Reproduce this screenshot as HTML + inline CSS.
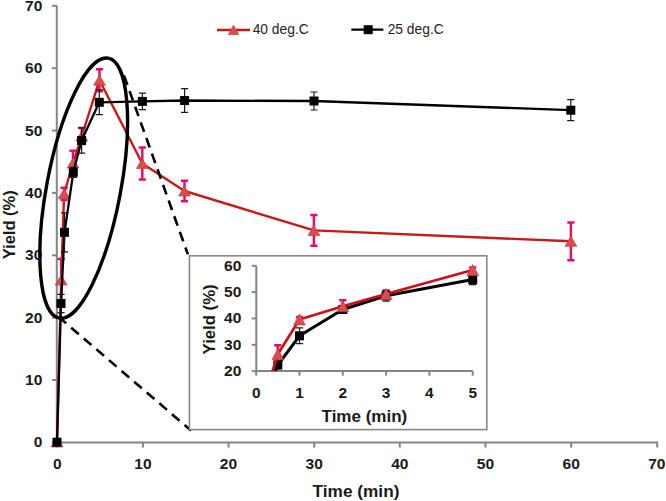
<!DOCTYPE html>
<html><head><meta charset="utf-8"><style>
html,body{margin:0;padding:0;background:#fff;}
svg{display:block;}
text{font-family:"Liberation Sans",sans-serif;}
.axis path{fill:none;stroke:#868686;stroke-width:2;}
.tl text{font-size:14.2px;font-weight:bold;fill:#1a1a1a;}
.at{font-size:17px;font-weight:bold;fill:#1a1a1a;}
.lg{font-size:14px;fill:#1e1e1e;}
.bl{fill:none;stroke:#000;stroke-width:2.3;stroke-linejoin:round;}
.rl{fill:none;stroke:#C81818;stroke-width:2.4;stroke-linejoin:round;}
.bl2{fill:none;stroke:#000;stroke-width:3;stroke-linejoin:round;}
.rl2{fill:none;stroke:#CC0F18;stroke-width:2.7;stroke-linejoin:round;}
.be{fill:none;stroke:#1a1a1a;stroke-width:1.2;}
.re{fill:none;stroke:#E0106A;stroke-width:2.5;}
.tri{fill:#DC4C4C;stroke:#C04040;stroke-width:0.7;}
.sq{fill:#000;}
.dash{fill:none;stroke:#000;stroke-width:2.6;stroke-dasharray:10 6.6;}
</style></head><body>
<svg width="666" height="501" viewBox="0 0 666 501">
<g class="axis">
<path d="M56.8,5.8V442.4H657.2V447.5"/>
<path d="M52,442.4H56.8"/>
<path d="M52,380.0H56.8"/>
<path d="M52,317.7H56.8"/>
<path d="M52,255.3H56.8"/>
<path d="M52,192.9H56.8"/>
<path d="M52,130.6H56.8"/>
<path d="M52,68.2H56.8"/>
<path d="M52,5.8H56.8"/>
<path d="M57.2,442.4V447.6"/>
<path d="M142.9,442.4V447.6"/>
<path d="M228.5,442.4V447.6"/>
<path d="M314.2,442.4V447.6"/>
<path d="M399.8,442.4V447.6"/>
<path d="M485.5,442.4V447.6"/>
<path d="M571.2,442.4V447.6"/>
</g>
<g class="tl">
<text x="42.3" y="447.4" text-anchor="end" textLength="8.6" lengthAdjust="spacingAndGlyphs">0</text>
<text x="42.3" y="385.0" text-anchor="end" textLength="17.3" lengthAdjust="spacingAndGlyphs">10</text>
<text x="42.3" y="322.7" text-anchor="end" textLength="17.3" lengthAdjust="spacingAndGlyphs">20</text>
<text x="42.3" y="260.3" text-anchor="end" textLength="17.3" lengthAdjust="spacingAndGlyphs">30</text>
<text x="42.3" y="197.9" text-anchor="end" textLength="17.3" lengthAdjust="spacingAndGlyphs">40</text>
<text x="42.3" y="135.6" text-anchor="end" textLength="17.3" lengthAdjust="spacingAndGlyphs">50</text>
<text x="42.3" y="73.2" text-anchor="end" textLength="17.3" lengthAdjust="spacingAndGlyphs">60</text>
<text x="42.3" y="10.8" text-anchor="end" textLength="17.3" lengthAdjust="spacingAndGlyphs">70</text>
<text x="57.2" y="469.2" text-anchor="middle" textLength="8.6" lengthAdjust="spacingAndGlyphs">0</text>
<text x="142.9" y="469.2" text-anchor="middle" textLength="17.3" lengthAdjust="spacingAndGlyphs">10</text>
<text x="228.5" y="469.2" text-anchor="middle" textLength="17.3" lengthAdjust="spacingAndGlyphs">20</text>
<text x="314.2" y="469.2" text-anchor="middle" textLength="17.3" lengthAdjust="spacingAndGlyphs">30</text>
<text x="399.8" y="469.2" text-anchor="middle" textLength="17.3" lengthAdjust="spacingAndGlyphs">40</text>
<text x="485.5" y="469.2" text-anchor="middle" textLength="17.3" lengthAdjust="spacingAndGlyphs">50</text>
<text x="571.2" y="469.2" text-anchor="middle" textLength="17.3" lengthAdjust="spacingAndGlyphs">60</text>
<text x="656.8" y="469.2" text-anchor="middle" textLength="17.3" lengthAdjust="spacingAndGlyphs">70</text>
</g>
<text class="at" x="356" y="496.6" text-anchor="middle" textLength="86.8" lengthAdjust="spacingAndGlyphs">Time (min)</text>
<text class="at" transform="translate(14.9,224.8) rotate(-90)" x="0" y="0" text-anchor="middle" textLength="69" lengthAdjust="spacingAndGlyphs">Yield (%)</text>
<path class="rl" d="M57.0,442.0 L61.2,280.0 L64.1,193.8 L73.0,163.0 L81.8,136.0 L99.5,80.2 L142.3,163.5 L184.5,191.0 L313.9,230.4 L570.9,241.3"/>

<path class="re" d="M61.2,259.0V301.0M57.6,259.0h7.2M57.6,301.0h7.2"/>
<path class="re" d="M64.1,187.7V199.9M60.5,187.7h7.2M60.5,199.9h7.2"/>
<path class="re" d="M73.0,150.8V175.2M69.4,150.8h7.2M69.4,175.2h7.2"/>
<path class="re" d="M81.8,128.0V144.0M78.2,128.0h7.2M78.2,144.0h7.2"/>
<path class="re" d="M99.5,69.2V91.2M95.9,69.2h7.2M95.9,91.2h7.2"/>
<path class="re" d="M142.3,147.5V179.5M138.7,147.5h7.2M138.7,179.5h7.2"/>
<path class="re" d="M184.5,180.7V201.3M180.9,180.7h7.2M180.9,201.3h7.2"/>
<path class="re" d="M313.9,215.1V245.7M310.3,215.1h7.2M310.3,245.7h7.2"/>
<path class="re" d="M570.9,222.4V260.2M567.3,222.4h7.2M567.3,260.2h7.2"/>
<polygon class="tri" points="57.0,437.0 62.9,447.0 51.1,447.0"/>
<polygon class="tri" points="61.2,275.0 67.1,285.0 55.3,285.0"/>
<polygon class="tri" points="64.1,188.8 70.0,198.8 58.2,198.8"/>
<polygon class="tri" points="73.0,158.0 78.9,168.0 67.1,168.0"/>
<polygon class="tri" points="81.8,131.0 87.7,141.0 75.9,141.0"/>
<polygon class="tri" points="99.5,75.2 105.4,85.2 93.6,85.2"/>
<polygon class="tri" points="142.3,158.5 148.2,168.5 136.4,168.5"/>
<polygon class="tri" points="184.5,186.0 190.4,196.0 178.6,196.0"/>
<polygon class="tri" points="313.9,225.4 319.8,235.4 308.0,235.4"/>
<polygon class="tri" points="570.9,236.3 576.8,246.3 565.0,246.3"/>
<path class="bl" d="M57.0,442.2 L61.0,303.5 L64.5,232.3 L73.3,172.3 L81.6,140.5 L99.3,102.3 L142.4,101.4 L184.6,100.5 L314.0,101.0 L570.8,110.2"/>

<path class="be" d="M61.0,294.3V312.7M57.4,294.3h7.2M57.4,312.7h7.2"/>
<path class="be" d="M64.5,212.8V251.8M60.9,212.8h7.2M60.9,251.8h7.2"/>
<path class="be" d="M73.3,167.3V177.3M69.7,167.3h7.2M69.7,177.3h7.2"/>
<path class="be" d="M81.6,127.8V153.2M78.0,127.8h7.2M78.0,153.2h7.2"/>
<path class="be" d="M99.3,89.9V114.7M95.7,89.9h7.2M95.7,114.7h7.2"/>
<path class="be" d="M142.4,93.2V109.6M138.8,93.2h7.2M138.8,109.6h7.2"/>
<path class="be" d="M184.6,88.7V112.3M181.0,88.7h7.2M181.0,112.3h7.2"/>
<path class="be" d="M314.0,92.0V110.0M310.4,92.0h7.2M310.4,110.0h7.2"/>
<path class="be" d="M570.8,99.7V120.7M567.2,99.7h7.2M567.2,120.7h7.2"/>
<rect class="sq" x="52.5" y="437.7" width="9" height="9"/>
<rect class="sq" x="56.5" y="299.0" width="9" height="9"/>
<rect class="sq" x="60.0" y="227.8" width="9" height="9"/>
<rect class="sq" x="68.8" y="167.8" width="9" height="9"/>
<rect class="sq" x="77.1" y="136.0" width="9" height="9"/>
<rect class="sq" x="94.8" y="97.8" width="9" height="9"/>
<rect class="sq" x="137.9" y="96.9" width="9" height="9"/>
<rect class="sq" x="180.1" y="96.0" width="9" height="9"/>
<rect class="sq" x="309.5" y="96.5" width="9" height="9"/>
<rect class="sq" x="566.3" y="105.7" width="9" height="9"/>
<path class="rl" d="M217,30H250"/>
<polygon class="tri" points="233.5,25.2 238.7,34.6 228.3,34.6"/>
<text class="lg" x="252.7" y="34.3" textLength="56" lengthAdjust="spacingAndGlyphs">40 deg.C</text>
<path class="bl" d="M351.3,29.6H383.4"/>
<rect class="sq" x="363.7" y="25.2" width="9" height="9"/>
<text class="lg" x="387.7" y="34.3" textLength="56" lengthAdjust="spacingAndGlyphs">25 deg.C</text>
<ellipse cx="83.7" cy="188.15" rx="36.98" ry="132.27" transform="rotate(10.7 83.7 188.15)" fill="none" stroke="#000" stroke-width="3.4"/>
<path class="dash" d="M124,75.5L187.9,254.4"/>
<path class="dash" style="stroke-dashoffset:2.5" d="M60.5,318.5L191,430.5"/>
<rect x="189.4" y="255.8" width="297.4" height="173.8" fill="#fff" stroke="#888" stroke-width="1.6"/>
<g class="axis">
<path d="M256.3,265.8V371.1H472.7"/>
<path d="M251.7,371.1H256.3"/>
<path d="M251.7,344.8H256.3"/>
<path d="M251.7,318.4H256.3"/>
<path d="M251.7,292.1H256.3"/>
<path d="M251.7,265.8H256.3"/>
<path d="M256.2,371.1V375.7"/>
<path d="M299.5,371.1V375.7"/>
<path d="M342.8,371.1V375.7"/>
<path d="M386.1,371.1V375.7"/>
<path d="M429.4,371.1V375.7"/>
<path d="M472.7,371.1V375.7"/>
</g>
<g class="tl">
<text x="241.3" y="376.1" text-anchor="end" textLength="17.3" lengthAdjust="spacingAndGlyphs">20</text>
<text x="241.3" y="349.8" text-anchor="end" textLength="17.3" lengthAdjust="spacingAndGlyphs">30</text>
<text x="241.3" y="323.4" text-anchor="end" textLength="17.3" lengthAdjust="spacingAndGlyphs">40</text>
<text x="241.3" y="297.1" text-anchor="end" textLength="17.3" lengthAdjust="spacingAndGlyphs">50</text>
<text x="241.3" y="270.8" text-anchor="end" textLength="17.3" lengthAdjust="spacingAndGlyphs">60</text>
<text x="256.2" y="398.1" text-anchor="middle" textLength="8.6" lengthAdjust="spacingAndGlyphs">0</text>
<text x="299.5" y="398.1" text-anchor="middle" textLength="8.6" lengthAdjust="spacingAndGlyphs">1</text>
<text x="342.8" y="398.1" text-anchor="middle" textLength="8.6" lengthAdjust="spacingAndGlyphs">2</text>
<text x="386.1" y="398.1" text-anchor="middle" textLength="8.6" lengthAdjust="spacingAndGlyphs">3</text>
<text x="429.4" y="398.1" text-anchor="middle" textLength="8.6" lengthAdjust="spacingAndGlyphs">4</text>
<text x="472.7" y="398.1" text-anchor="middle" textLength="8.6" lengthAdjust="spacingAndGlyphs">5</text>
</g>
<text class="at" x="364.4" y="422.2" text-anchor="middle" textLength="85.7" lengthAdjust="spacingAndGlyphs">Time (min)</text>
<text class="at" transform="translate(214.6,319.4) rotate(-90)" x="0" y="0" text-anchor="middle" textLength="70" lengthAdjust="spacingAndGlyphs">Yield (%)</text>
<clipPath id="ic"><rect x="190" y="256" width="296" height="115.1"/></clipPath>
<g clip-path="url(#ic)">

<path class="re" d="M277.8,345.3V363.2M274.2,345.3h7.2M274.2,363.2h7.2"/>
<path class="re" d="M299.5,316.9V322.1M295.9,316.9h7.2M295.9,322.1h7.2"/>
<path class="re" d="M342.8,300.3V312.4M339.2,300.3h7.2M339.2,312.4h7.2"/>
<path class="re" d="M386.1,290.5V297.4M382.5,290.5h7.2M382.5,297.4h7.2"/>
<path class="re" d="M472.7,267.4V272.6M469.1,267.4h7.2M469.1,272.6h7.2"/>
<path class="bl2" d="M256.2,423.8 L277.8,365.0 L299.5,335.8 L342.8,309.5 L386.1,295.8 L472.7,279.5"/>

<path class="be" d="M277.8,361.1V369.0M274.2,361.1h7.2M274.2,369.0h7.2"/>
<path class="be" d="M299.5,327.9V343.7M295.9,327.9h7.2M295.9,343.7h7.2"/>
<path class="be" d="M342.8,307.4V311.6M339.2,307.4h7.2M339.2,311.6h7.2"/>
<path class="be" d="M386.1,290.5V301.1M382.5,290.5h7.2M382.5,301.1h7.2"/>
<path class="be" d="M472.7,274.2V284.7M469.1,274.2h7.2M469.1,284.7h7.2"/>
<rect class="sq" x="273.3" y="360.5" width="9" height="9"/>
<rect class="sq" x="295.0" y="331.3" width="9" height="9"/>
<rect class="sq" x="338.3" y="305.0" width="9" height="9"/>
<rect class="sq" x="381.6" y="291.3" width="9" height="9"/>
<rect class="sq" x="468.2" y="275.0" width="9" height="9"/>
<path class="rl2" d="M256.2,423.8 L277.8,354.2 L299.5,319.5 L342.8,306.3 L386.1,294.0 L472.7,270.0"/>
<polygon class="tri" points="277.8,348.7 283.6,359.7 272.0,359.7"/>
<polygon class="tri" points="299.5,314.0 305.3,325.0 293.7,325.0"/>
<polygon class="tri" points="342.8,300.8 348.6,311.8 337.0,311.8"/>
<polygon class="tri" points="386.1,288.5 391.9,299.5 380.3,299.5"/>
<polygon class="tri" points="472.7,264.5 478.5,275.5 466.9,275.5"/>
</g>
</svg>
</body></html>
